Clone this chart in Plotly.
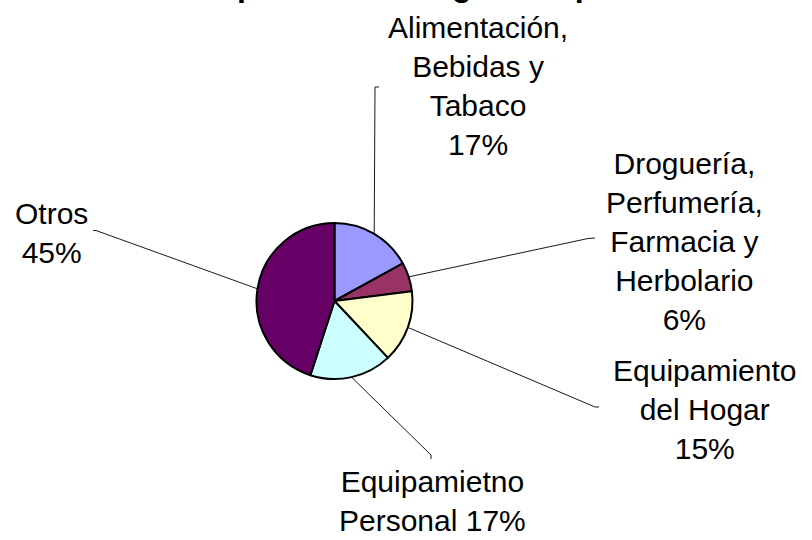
import math
import plotly.graph_objects as go

# ---- data ----
categories = [
    "Alimentación,<br>Bebidas y<br>Tabaco",
    "Droguería,<br>Perfumería,<br>Farmacia y<br>Herbolario",
    "Equipamiento<br>del Hogar",
    "Equipamietno<br>Personal",
    "Otros",
]
pct_separator = ["<br>", "<br>", "<br>", " ", "<br>"]
values = [17, 6, 15, 17, 45]
title_text = "Superficie útil según el tipo"

# ---- style / layout ----
colors = ["#9999FF", "#993366", "#FFFFCC", "#CCFFFF", "#660066"]
W, H = 812, 540
cx, cy, r = 334.5, 301.0, 78.0          # pie centre / radius in px
label_pos = [(478, 86), (684, 241), (704, 409), (432, 501), (51, 232.5)]
leader_end = [((375, 87), (379, 87)),
              ((588, 238.5), (595, 238)),
              ((595, 407), (599, 407)),
              ((431, 455), (431, 459)),
              ((96, 230.5), (93, 230.5))]
FONT = "Arial, Liberation Sans, sans-serif"


def px(x):
    return x / W


def py(y):
    return 1 - y / H


fig = go.Figure()
fig.add_trace(go.Pie(
    labels=[c.replace("<br>", " ") for c in categories],
    values=values,
    sort=False,
    direction="clockwise",
    rotation=0,
    textinfo="none",
    hoverinfo="label+percent",
    marker=dict(colors=colors, line=dict(color="#000000", width=2)),
    domain=dict(x=[px(cx - r), px(cx + r)], y=[py(cy + r), py(cy - r)]),
    showlegend=False,
))

total = sum(values)
cum = 0.0
annotations = []
shapes = []
for i, v in enumerate(values):
    theta = 2 * math.pi * (cum + v / 2) / total
    cum += v
    sx = cx + r * math.sin(theta)
    sy = cy - r * math.cos(theta)
    (ex, ey), (tx, ty) = leader_end[i]
    path = f"M {px(sx)} {py(sy)} L {px(ex)} {py(ey)} L {px(tx)} {py(ty)}"
    shapes.append(dict(type="path", path=path, xref="paper", yref="paper",
                       line=dict(color="#1a1a1a", width=1)))
    pct = round(100 * v / total)
    lx, ly = label_pos[i]
    annotations.append(dict(
        text=f"{categories[i]}{pct_separator[i]}{pct}%",
        x=px(lx), y=py(ly), xref="paper", yref="paper",
        xanchor="center", yanchor="middle", align="center",
        showarrow=False, font=dict(family=FONT, size=30, color="#000000"),
    ))

annotations.append(dict(
    text=f"<b>{title_text}</b>", x=px(405), y=py(5), xref="paper", yref="paper",
    xanchor="center", yanchor="bottom", showarrow=False,
    font=dict(family=FONT, size=32, color="#000000"),
))

fig.update_layout(
    width=W, height=H,
    margin=dict(l=0, r=0, t=0, b=0),
    paper_bgcolor="#FFFFFF", plot_bgcolor="#FFFFFF",
    annotations=annotations, shapes=shapes,
)

fig.write_html(
    "out.html",
    config={"displayModeBar": False},
    post_script="document.body.style.margin='0';document.body.style.padding='0';",
)
